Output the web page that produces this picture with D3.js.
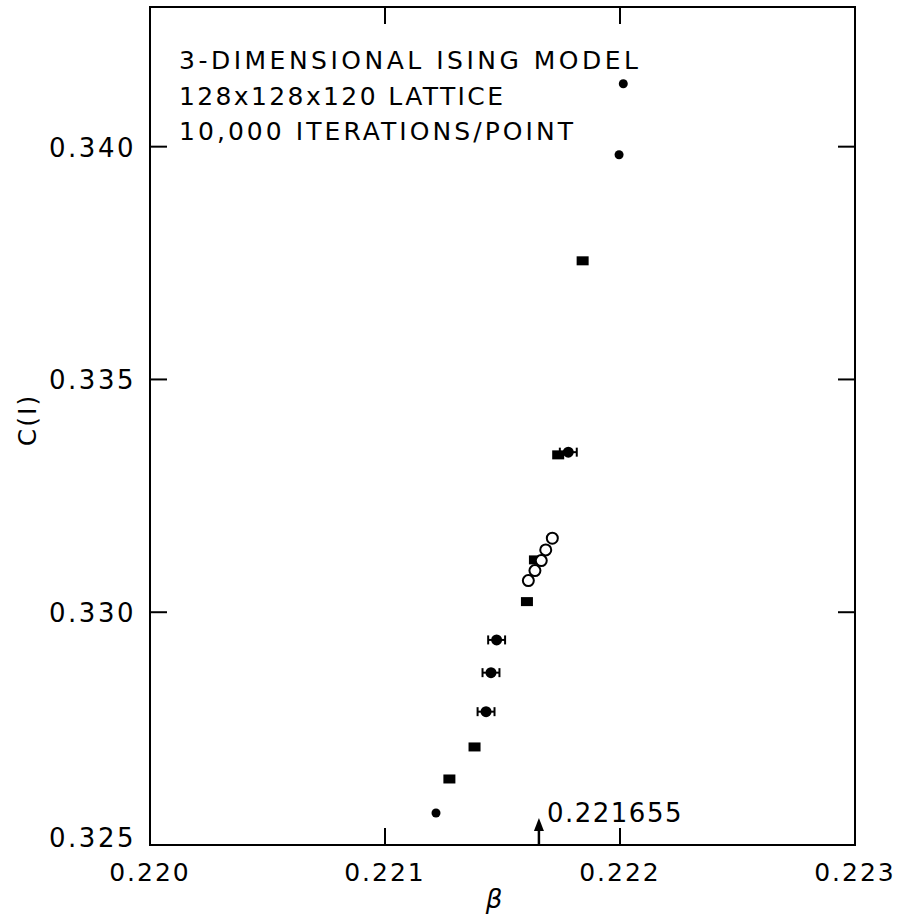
<!DOCTYPE html>
<html>
<head>
<meta charset="utf-8">
<script src="https://cdn.jsdelivr.net/npm/d3@7"></script>
<style>
  body { margin: 0; background: #fff; }
  svg text { font-family: "DejaVu Sans", sans-serif; fill: #000; }
</style>
</head>
<body>
<svg id="chart" width="898" height="915"></svg>
<script>
// values
const titleLines = ['3-DIMENSIONAL ISING MODEL', '128x128x120 LATTICE', '10,000 ITERATIONS/POINT'];
const xTicks = [0.220, 0.221, 0.222, 0.223];
const yTicks = [0.325, 0.330, 0.335, 0.340];
const betaC = 0.221655;

const dots = [[0.221217, 0.325688], [0.221996, 0.339826], [0.222014, 0.341351]];
const errDots = [[0.221430, 0.327864], [0.221451, 0.328702], [0.221475, 0.329405], [0.221780, 0.333438]];
const errBeta = 0.000036;
const squares = [[0.221274, 0.326418], [0.221381, 0.327106], [0.221604, 0.330228], [0.221638, 0.331124], [0.221737, 0.333380], [0.221841, 0.337548]];
const openCircles = [[0.221610, 0.330679], [0.221638, 0.330894], [0.221665, 0.331109], [0.221684, 0.331339], [0.221712, 0.331590]];

const svg = d3.select('#chart');
const x = d3.scaleLinear().domain([0.220, 0.223]).range([150, 855]);
const y = d3.scaleLinear().domain([0.325, 0.343]).range([845, 7]);

// frame
svg.append('rect')
  .attr('x', x(0.220)).attr('y', y(0.343))
  .attr('width', x(0.223) - x(0.220)).attr('height', y(0.325) - y(0.343))
  .attr('fill', 'none').attr('stroke', '#000').attr('stroke-width', 2);

// inward ticks on all four sides
const tickLen = 17;
svg.append('g').selectAll('line').data(xTicks.slice(1, -1)).join('line')
  .attr('x1', d => x(d)).attr('x2', d => x(d))
  .attr('y1', y(0.325)).attr('y2', y(0.325) - tickLen)
  .attr('stroke', '#000').attr('stroke-width', 2);
svg.append('g').selectAll('line').data(xTicks.slice(1, -1)).join('line')
  .attr('x1', d => x(d)).attr('x2', d => x(d))
  .attr('y1', y(0.343)).attr('y2', y(0.343) + tickLen)
  .attr('stroke', '#000').attr('stroke-width', 2);
svg.append('g').selectAll('line').data(yTicks.slice(1)).join('line')
  .attr('x1', x(0.220)).attr('x2', x(0.220) + tickLen)
  .attr('y1', d => y(d)).attr('y2', d => y(d))
  .attr('stroke', '#000').attr('stroke-width', 2);
svg.append('g').selectAll('line').data(yTicks.slice(1)).join('line')
  .attr('x1', x(0.223)).attr('x2', x(0.223) - tickLen)
  .attr('y1', d => y(d)).attr('y2', d => y(d))
  .attr('stroke', '#000').attr('stroke-width', 2);

// tick labels
svg.append('g').selectAll('text').data(xTicks).join('text')
  .attr('x', d => x(d)).attr('y', 881)
  .attr('text-anchor', 'middle').attr('font-size', 25).attr('letter-spacing', 2)
  .text(d => d3.format('.3f')(d));
svg.append('g').selectAll('text').data(yTicks).join('text')
  .attr('x', 136).attr('y', d => y(d) + (d === 0.325 ? 2 : 10))
  .attr('text-anchor', 'end').attr('font-size', 26).attr('letter-spacing', 2.5)
  .text(d => d3.format('.3f')(d));

// axis titles
svg.append('text').attr('x', 494).attr('y', 908)
  .attr('text-anchor', 'middle').attr('font-size', 26).attr('font-style', 'italic')
  .text('β');
svg.append('text')
  .attr('transform', 'translate(36,420) rotate(-90)')
  .attr('text-anchor', 'middle').attr('font-size', 25).attr('letter-spacing', 2)
  .text('C(I)');

// title block
const titleWidths = [459, 324, 394];
svg.append('g').selectAll('text').data(titleLines).join('text')
  .attr('x', 179).attr('y', (d, i) => 69 + i * 35.5)
  .attr('font-size', 25)
  .attr('textLength', (d, i) => titleWidths[i]).attr('lengthAdjust', 'spacing')
  .text(d => d);

// critical coupling arrow
const ax = x(betaC);
svg.append('line').attr('x1', ax).attr('x2', ax)
  .attr('y1', y(0.325)).attr('y2', y(0.325) - 18)
  .attr('stroke', '#000').attr('stroke-width', 2.5);
svg.append('path')
  .attr('d', `M${ax},${y(0.325) - 27} L${ax - 5},${y(0.325) - 14} L${ax + 5},${y(0.325) - 14} Z`)
  .attr('fill', '#000');
svg.append('text').attr('x', ax + 8).attr('y', 822)
  .attr('font-size', 26).attr('letter-spacing', 1.5)
  .text(betaC.toString());

// markers
svg.append('g').selectAll('circle').data(dots).join('circle')
  .attr('cx', d => x(d[0])).attr('cy', d => y(d[1])).attr('r', 4.5)
  .attr('fill', '#000');

const eg = svg.append('g').attr('stroke', '#000').attr('stroke-width', 2);
errDots.forEach(d => {
  const cy = y(d[1]);
  const x0 = x(d[0] - errBeta), x1 = x(d[0] + errBeta);
  eg.append('line').attr('x1', x0).attr('x2', x1).attr('y1', cy).attr('y2', cy);
  eg.append('line').attr('x1', x0).attr('x2', x0).attr('y1', cy - 4.5).attr('y2', cy + 4.5);
  eg.append('line').attr('x1', x1).attr('x2', x1).attr('y1', cy - 4.5).attr('y2', cy + 4.5);
});
svg.append('g').selectAll('circle').data(errDots).join('circle')
  .attr('cx', d => x(d[0])).attr('cy', d => y(d[1])).attr('r', 5.5)
  .attr('fill', '#000');

svg.append('g').selectAll('rect').data(squares).join('rect')
  .attr('x', d => x(d[0]) - 6).attr('y', d => y(d[1]) - 4.5)
  .attr('width', 12).attr('height', 9)
  .attr('fill', '#000');

svg.append('g').selectAll('circle').data(openCircles).join('circle')
  .attr('cx', d => x(d[0])).attr('cy', d => y(d[1])).attr('r', 5.5)
  .attr('fill', '#fff').attr('stroke', '#000').attr('stroke-width', 2);
</script>
</body>
</html>
